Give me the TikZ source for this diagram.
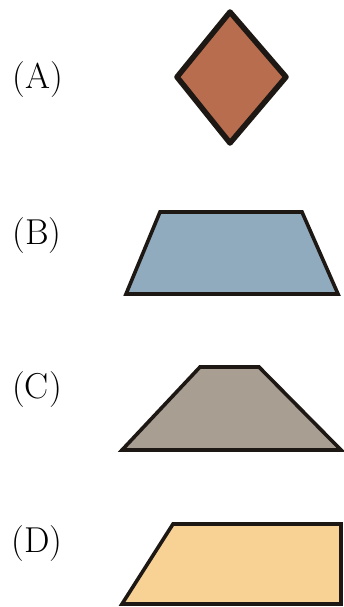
\documentclass[tikz,border=0pt]{standalone}
\begin{document}
\begin{tikzpicture}[x=1pt,y=-1pt,
  lab/.style={font=\fontsize{36}{42}\selectfont, inner sep=0pt, anchor=center},
  shp/.style={draw=edgec, line width=3.6pt, line join=miter}]
\definecolor{edgec}{HTML}{1E1814}
\definecolor{cA}{HTML}{B86D4F}
\definecolor{cB}{HTML}{8FABBD}
\definecolor{cC}{HTML}{A89E92}
\definecolor{cD}{HTML}{F7D294}
\useasboundingbox (0,0) rectangle (344,607);
% (A) diamond
\filldraw[shp, fill=cA, line width=5.5pt, line join=round] (230,12) -- (286,77) -- (230,143) -- (177,77) -- cycle;
% (B)
\filldraw[shp, fill=cB] (160,212) -- (302,212) -- (338,294) -- (126,294) -- cycle;
% (C)
\filldraw[shp, fill=cC] (200,367) -- (259,367) -- (341,450) -- (122,450) -- cycle;
% (D)
\filldraw[shp, fill=cD] (173,524) -- (341,524) -- (341,604) -- (122,604) -- cycle;
\node[lab] (la) at (38,80) {(A)};
\node[lab] (lb) at (37,236) {(B)};
\node[lab] (lc) at (37,390) {(C)};
\node[lab] (ld) at (37,544) {(D)};
\end{tikzpicture}
\end{document}
